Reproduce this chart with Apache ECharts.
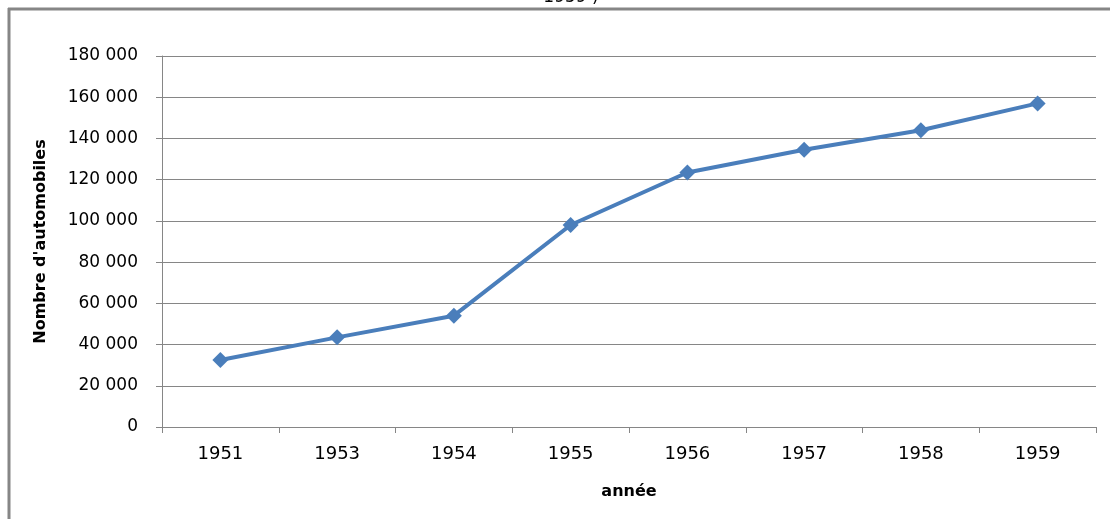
<!DOCTYPE html>
<html>
<head>
<meta charset="utf-8">
<script src="https://cdn.jsdelivr.net/npm/echarts@6/dist/echarts.min.js"></script>
<style>
  html, body { margin: 0; padding: 0; background: #fff; overflow: hidden; }
  #chart { width: 1110px; height: 519px; }
</style>
</head>
<body>
<div id="chart"></div>
<script>
// Annual number of automobiles
const years = ['1951', '1953', '1954', '1955', '1956', '1957', '1958', '1959'];
const automobiles = [32500, 43500, 54000, 98000, 123500, 134500, 144000, 157000];
const yMin = 0;
const yMax = 180000;
const yStep = 20000;

const fmt = v => String(v).replace(/\B(?=(\d{3})+(?!\d))/g, ' ');
const font = '"DejaVu Sans", Verdana, sans-serif';
const grey = '#868686';

const chart = echarts.init(document.getElementById('chart'));
chart.setOption({
  animation: false,
  backgroundColor: '#fff',
  graphic: [
    {
      // chart area frame: left and top edges
      type: 'line',
      shape: { x1: 9, y1: 8, x2: 9, y2: 530 },
      style: { stroke: grey, lineWidth: 3 },
      z: 0
    },
    {
      type: 'line',
      shape: { x1: 8, y1: 9, x2: 1112, y2: 9 },
      style: { stroke: grey, lineWidth: 3 },
      z: 0
    },
    {
      type: 'text',
      x: 571, y: -11,
      style: { text: '1959 )', font: '17px ' + font, fill: '#000', textAlign: 'center' }
    }
  ],
  grid: { left: 162, right: 14, top: 56, bottom: 92 },
  xAxis: {
    type: 'category',
    data: years,
    boundaryGap: true,
    name: 'année',
    nameLocation: 'middle',
    nameGap: 57,
    nameTextStyle: { fontFamily: font, fontWeight: 'bold', fontSize: 16, color: '#000' },
    axisLine: { lineStyle: { color: grey, width: 1 } },
    axisTick: { show: true, alignWithLabel: false, length: 6, lineStyle: { color: grey } },
    axisLabel: { fontFamily: font, fontSize: 18, color: '#000', margin: 18 }
  },
  yAxis: {
    type: 'value',
    min: yMin, max: yMax, interval: yStep,
    name: "Nombre d'automobiles",
    nameLocation: 'middle',
    nameGap: 113,
    nameRotate: 90,
    nameTextStyle: { fontFamily: font, fontWeight: 'bold', fontSize: 16, color: '#000' },
    axisLine: { show: true, lineStyle: { color: grey, width: 1 } },
    axisTick: { show: true, length: 6, lineStyle: { color: grey } },
    splitLine: { lineStyle: { color: grey, width: 1 } },
    axisLabel: { fontFamily: font, fontSize: 17, color: '#000', margin: 24, formatter: fmt }
  },
  series: [{
    type: 'line',
    data: automobiles,
    symbol: 'diamond',
    symbolSize: 16,
    lineStyle: { color: '#4A7EBB', width: 4 },
    itemStyle: { color: '#4A7EBB' }
  }]
});
</script>
</body>
</html>
